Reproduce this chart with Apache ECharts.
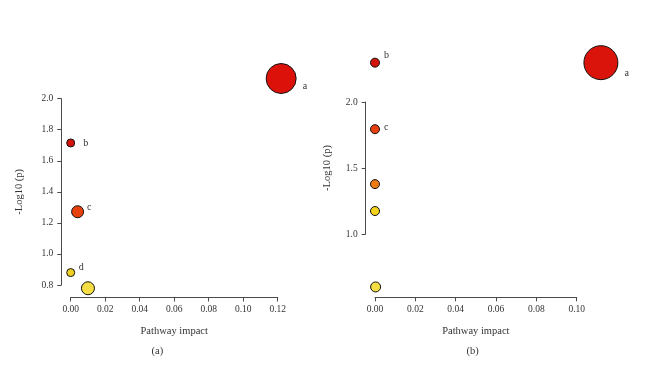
<!DOCTYPE html>
<html>
<head>
<meta charset="utf-8">
<script src="https://cdn.jsdelivr.net/npm/echarts@6/dist/echarts.min.js"></script>
<style>
html,body{margin:0;padding:0;background:#fff;}
#chart{width:650px;height:366px;}
</style>
</head>
<body>
<div id="chart"></div>
<script>
// ---- data ----
var leftImpact = [0.122, 0.000, 0.004, 0.000, 0.010];
var leftLogP   = [2.13, 1.715, 1.272, 0.880, 0.779];
var leftNames  = ['a', 'b', 'c', 'd', ''];

var rightImpact = [0.112, 0.000, 0.000, 0.000, 0.000, 0.0003];
var rightLogP   = [2.298, 2.298, 1.794, 1.378, 1.174, 0.599];
var rightNames  = ['a', 'b', 'c', '', '', ''];

var leftXTicks  = ['0.00', '0.02', '0.04', '0.06', '0.08', '0.10', '0.12'];
var leftYTicks  = ['0.8', '1.0', '1.2', '1.4', '1.6', '1.8', '2.0'];
var rightXTicks = ['0.00', '0.02', '0.04', '0.06', '0.08', '0.10'];
var rightYTicks = ['1.0', '1.5', '2.0'];

// ---- styles ----
var leftSizes  = [30, 8, 12, 8, 13];
var leftColors = ['#dc120a', '#d4140b', '#e6400e', '#f0d024', '#f4de44'];
var leftLabelOffsets = [[1, 8], [3, 0], [-2, -4], [-1.5, -5], [0, 0]];

var rightSizes  = [34, 9, 9, 9, 9, 10];
var rightColors = ['#da140a', '#d4140b', '#e6400e', '#ee7a14', '#f2d21c', '#f4de44'];
var rightLabelOffsets = [[1, 11], [-1, -7], [-1, -2], [0, 0], [0, 0], [0, 0]];

var FONT = '"Liberation Serif", "DejaVu Serif", serif';
var TXT = '#333';
var AX = '#4a4a4a';

function buildData(xs, ys, names, sizes, colors, offs) {
  return xs.map(function (x, i) {
    return {
      value: [x, ys[i]],
      name: names[i],
      symbolSize: sizes[i],
      itemStyle: { color: colors[i], borderColor: '#111', borderWidth: 1, opacity: 1 },
      label: { offset: offs[i] }
    };
  });
}

function xAxisCfg(idx, ticks, max, offset) {
  return {
    gridIndex: idx, type: 'value', min: 0, max: max, interval: 0.02,
    offset: offset,
    name: 'Pathway impact', nameLocation: 'middle', nameGap: 28,
    nameTextStyle: { fontFamily: FONT, fontSize: 10.5, color: TXT },
    axisLine: { show: true, onZero: false, lineStyle: { color: AX, width: 1 } },
    axisTick: { show: true, length: 4, lineStyle: { color: AX } },
    axisLabel: {
      fontFamily: FONT, fontSize: 9.5, color: TXT, margin: 7,
      formatter: function (v) {
        var s = v.toFixed(2);
        return ticks.indexOf(s) >= 0 ? s : '';
      }
    },
    splitLine: { show: false }
  };
}

function yAxisCfg(idx, ticks, min, max, interval, offset, gap) {
  return {
    gridIndex: idx, type: 'value', min: min, max: max, interval: interval,
    offset: offset,
    name: '-Log10 (p)', nameLocation: 'middle', nameGap: gap, nameRotate: 90,
    nameTextStyle: { fontFamily: FONT, fontSize: 10.5, color: TXT },
    axisLine: { show: true, onZero: false, lineStyle: { color: AX, width: 1 } },
    axisTick: { show: true, length: 4, lineStyle: { color: AX } },
    axisLabel: {
      fontFamily: FONT, fontSize: 9.5, color: TXT, margin: 8,
      formatter: function (v) {
        var s = v.toFixed(1);
        return ticks.indexOf(s) >= 0 ? s : '';
      }
    },
    splitLine: { show: false }
  };
}

var labelCfg = {
  show: true, position: 'right', distance: 5,
  fontFamily: FONT, fontSize: 10, color: TXT,
  formatter: function (p) { return p.name; }
};

var chart = echarts.init(document.getElementById('chart'), null, { renderer: 'canvas' });
chart.setOption({
  backgroundColor: '#ffffff',
  animation: false,
  grid: [
    { left: 70.7, top: 98.7, width: 207, height: 186.3 },
    { left: 375, top: 102, width: 201.7, height: 132 }
  ],
  xAxis: [
    xAxisCfg(0, leftXTicks, 0.12, 12.5),
    xAxisCfg(1, rightXTicks, 0.10, 63.3)
  ],
  yAxis: [
    yAxisCfg(0, leftYTicks, 0.8, 2.0, 0.2, 9.4, 37),
    yAxisCfg(1, rightYTicks, 1.0, 2.0, 0.5, 9.3, 33)
  ],
  series: [
    {
      type: 'scatter', xAxisIndex: 0, yAxisIndex: 0, clip: false,
      label: labelCfg,
      data: buildData(leftImpact, leftLogP, leftNames, leftSizes, leftColors, leftLabelOffsets)
    },
    {
      type: 'scatter', xAxisIndex: 1, yAxisIndex: 1, clip: false,
      label: labelCfg,
      data: buildData(rightImpact, rightLogP, rightNames, rightSizes, rightColors, rightLabelOffsets)
    }
  ],
  graphic: [
    { type: 'text', x: 157.3, y: 351, style: { text: '(a)', fontFamily: FONT, fontSize: 10.5, fill: TXT, textAlign: 'center', textVerticalAlign: 'middle' } },
    { type: 'text', x: 472.7, y: 351, style: { text: '(b)', fontFamily: FONT, fontSize: 10.5, fill: TXT, textAlign: 'center', textVerticalAlign: 'middle' } }
  ]
});
</script>
</body>
</html>
